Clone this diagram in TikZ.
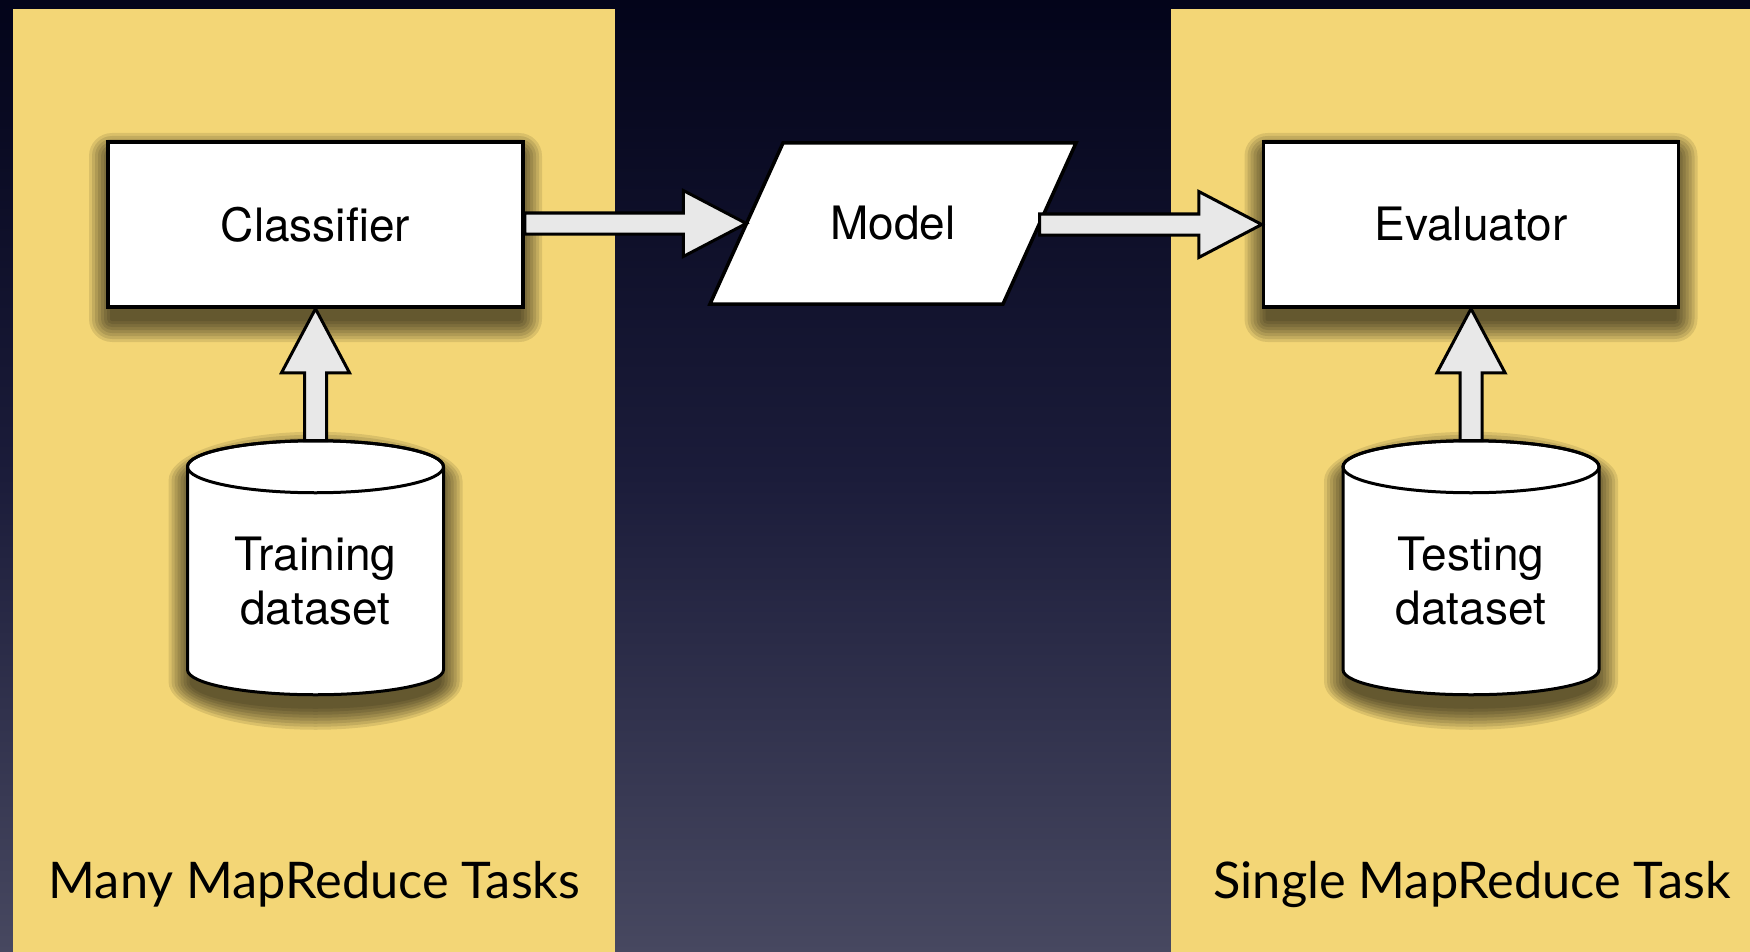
\documentclass[tikz,border=0pt]{standalone}
\usepackage{fontspec}
\setmainfont{TeX Gyre Heros}
\newfontfamily\capfont{Lato}
\usetikzlibrary{positioning,calc}

\definecolor{skytop}{HTML}{03041A}
\definecolor{skymid}{HTML}{1B1C3A}
\definecolor{skybot}{HTML}{474860}
\definecolor{sand}{HTML}{F3D676}
\definecolor{arrowfill}{HTML}{E8E8E8}

% soft shadow under a box: centre, half width, half height
\newcommand\boxshadow[3]{%
  \foreach \k in {2,5,...,23}
    \fill [black, opacity=0.1, rounded corners=\k pt]
      ($(#1)+(-#2-\k+4,-#3+14-\k)$) rectangle ($(#1)+(#2+\k-4,#3+12+\k)$);}
% soft shadow under a cylinder centred at #1
\newcommand\dbshadow[1]{%
  \foreach \k in {2,5,...,23}
    \fill [black, opacity=0.1] ($(#1)+(124+\k,-100)$)
      arc [start angle=0, end angle=180, x radius=124pt+\k pt, y radius=26pt+\k pt]
      -- ($(#1)+(-124-\k,101)$)
      arc [start angle=180, end angle=360, x radius=124pt+\k pt, y radius=25pt+\k pt]
      -- cycle;}
% cylinder body centred at #1
\newcommand\dbbody[1]{%
  \draw [dbline] ($(#1)+(-128,-114)$) -- ($(#1)+(-128,89)$)
    arc [start angle=180, end angle=360, x radius=128pt, y radius=25pt]
    -- ($(#1)+(128,-114)$)
    arc [start angle=0, end angle=180, x radius=128pt, y radius=26pt] -- cycle;
  \draw [line width=3pt] ($(#1)+(0,-114)$) ellipse [x radius=128pt, y radius=26pt];}
% block arrow pointing right, shaft starts at #1, tip at #2
\newcommand\fatright[2]{%
  \fill [black, opacity=0.3, xshift=-3pt, yshift=-7pt] let \p1=(#1), \p2=(#2) in
    (\x1,\y2+10.5pt) -- (\x2-63pt,\y2+10.5pt) -- (\x2-63pt,\y2+33pt) -- (\x2,\y2)
    -- (\x2-63pt,\y2-33pt) -- (\x2-63pt,\y2-10.5pt) -- (\x1,\y2-10.5pt) -- cycle;
  \draw [fatarrow] let \p1=(#1), \p2=(#2) in
    (\x1,\y2+10.5pt) -- (\x2-63pt,\y2+10.5pt) -- (\x2-63pt,\y2+33pt) -- (\x2,\y2)
    -- (\x2-63pt,\y2-33pt) -- (\x2-63pt,\y2-10.5pt) -- (\x1,\y2-10.5pt) -- cycle;}
% block arrow pointing up
\newcommand\fatup[2]{%
  \draw [fatarrow] let \p1=(#1), \p2=(#2) in
    (\x2-11pt,\y1) -- (\x2-11pt,\y2-64pt) -- (\x2-34pt,\y2-64pt) -- (\x2,\y2)
    -- (\x2+34pt,\y2-64pt) -- (\x2+11pt,\y2-64pt) -- (\x2+11pt,\y1) -- cycle;}

\begin{document}
\begin{tikzpicture}[x=1pt, y=-1pt,
    panel/.style={rectangle, fill=sand, inner sep=0pt, minimum width=602pt, minimum height=943pt},
    box/.style={rectangle, draw, line width=3.5pt, fill=white, minimum width=415pt, minimum height=165pt,
      font=\fontsize{46}{54}\selectfont},
    dataio/.style={draw, line width=3.5pt, fill=white, line join=miter},
    label/.style={rectangle, inner sep=0pt, align=center, font=\fontsize{46}{54}\selectfont},
    dbline/.style={draw, line width=3pt, fill=white},
    fatarrow/.style={draw, line width=3pt, fill=arrowfill, line join=miter},
    caption/.style={anchor=base, text=black, font=\capfont\fontsize{50.5}{60}\selectfont}]

    \useasboundingbox (0,0) rectangle (1750,952);
    \shade [top color=skytop, bottom color=skybot, middle color=skymid] (0,0) rectangle (1750,952);
    \node [panel, anchor=north west] (lpanel) at (13,9) {};
    \node [panel, anchor=north west, minimum width=579pt] (rpanel) at (1171,9) {};

    % boxes
    \coordinate (clfc) at (315.5,224.5);
    \coordinate [right=1155.5pt of clfc] (evlc);
    \boxshadow{clfc}{207.5}{82.5}
    \boxshadow{evlc}{207.5}{82.5}
    \node [box] (clf) at (clfc) {Classifier};
    \node [box] (evl) at (evlc) {Evaluator};

    % model (parallelogram)
    \coordinate (mdlc) at (893,223.5);
    \draw [dataio] ($(mdlc)+(-110,-80.5)$) -- ($(mdlc)+(183,-80.5)$)
      -- ($(mdlc)+(110,80.5)$) -- ($(mdlc)+(-183,80.5)$) -- cycle;
    \node [label, minimum width=293pt, minimum height=161pt] (mdl) at (mdlc) {Model};

    % datasets
    \coordinate [below=272pt of clf.south] (trnc);
    \coordinate [below=272pt of evl.south] (tstc);
    \dbshadow{trnc}
    \dbshadow{tstc}
    \dbbody{trnc}
    \dbbody{tstc}
    \node [label, minimum width=256pt, minimum height=228pt] (trn) at (trnc) {Training\\dataset};
    \node [label, minimum width=256pt, minimum height=228pt] (tst) at (tstc) {Testing\\dataset};

    \node [caption] (many) at (314.5,898) {Many MapReduce Tasks};
    \node [caption] (single) at (1472,898) {Single MapReduce Task};

    \fatup{$(trn.north)+(0,-26)$}{clf.south}
    \fatup{$(tst.north)+(0,-26)$}{evl.south}
    \fatright{clf.east}{mdl.west}
    \fatright{mdl.east}{evl.west}
\end{tikzpicture}
\end{document}
